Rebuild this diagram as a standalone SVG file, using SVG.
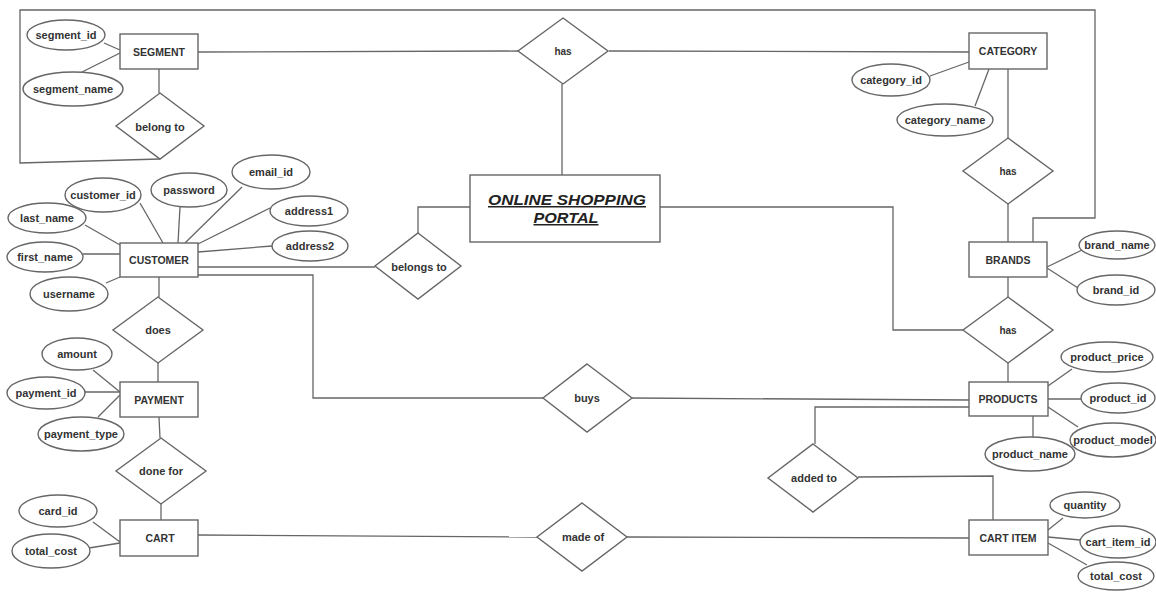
<svg xmlns="http://www.w3.org/2000/svg" width="1156" height="592" viewBox="0 0 1156 592">
<style>
.ent rect,.rel polygon,.attr ellipse{fill:#fff;stroke:#666;stroke-width:1.4}
text{font-family:"Liberation Sans",Arial,sans-serif;font-weight:bold;fill:#333;text-anchor:middle;dominant-baseline:central;font-size:11px}
.ent text{font-size:10.5px}
.title text{font-size:15px;font-style:italic;text-decoration:underline;fill:#222;dominant-baseline:auto}
#connectors *{stroke:#666;stroke-width:1.3;fill:none}
</style>
<rect width="1156" height="592" fill="#fff"/>
<g id="connectors">
<polyline points="160,159 20,163 20,10 1095,10 1095,218 1033,218 1033,242"/>
<line x1="198" y1="52" x2="518" y2="51"/>
<line x1="609" y1="51" x2="969" y2="52"/>
<line x1="562" y1="84" x2="562" y2="175"/>
<line x1="159" y1="69" x2="159" y2="93"/>
<line x1="104" y1="43" x2="120" y2="50"/>
<line x1="82" y1="72" x2="120" y2="53"/>
<line x1="930" y1="76" x2="969" y2="62"/>
<line x1="975" y1="106" x2="989" y2="69"/>
<line x1="1008" y1="69" x2="1008" y2="138"/>
<line x1="1008" y1="204" x2="1008" y2="242"/>
<line x1="1047" y1="267" x2="1082" y2="250"/>
<line x1="1047" y1="268" x2="1078" y2="288"/>
<line x1="1008" y1="277" x2="1008" y2="297"/>
<line x1="1008" y1="363" x2="1008" y2="382"/>
<polyline points="660,207 893,207 893,330 963,330"/>
<polyline points="470,207 418,207 418,233"/>
<line x1="198" y1="267" x2="375" y2="267"/>
<polyline points="198,275 313,275 313,398 543,398"/>
<line x1="632" y1="398" x2="969" y2="400"/>
<line x1="1048" y1="386" x2="1072" y2="369"/>
<line x1="1048" y1="399" x2="1081" y2="399"/>
<line x1="1048" y1="407" x2="1078" y2="427"/>
<line x1="1033" y1="416" x2="1033" y2="437"/>
<polyline points="969,407 815,407 815,444"/>
<polyline points="858,477 993,476 993,520"/>
<line x1="198" y1="535" x2="537" y2="537"/>
<line x1="627" y1="537" x2="969" y2="538"/>
<line x1="1048" y1="530" x2="1063" y2="518"/>
<line x1="1048" y1="537" x2="1080" y2="540"/>
<line x1="1048" y1="543" x2="1087" y2="565"/>
<line x1="140" y1="203" x2="163" y2="243"/>
<line x1="180" y1="207" x2="178" y2="243"/>
<line x1="242" y1="187" x2="185" y2="243"/>
<line x1="270" y1="208" x2="198" y2="244"/>
<line x1="272" y1="246" x2="198" y2="252"/>
<line x1="85" y1="225" x2="120" y2="245"/>
<line x1="83" y1="254" x2="120" y2="254"/>
<line x1="106" y1="283" x2="120" y2="277"/>
<line x1="159" y1="277" x2="159" y2="297"/>
<line x1="158" y1="363" x2="158" y2="382"/>
<line x1="93" y1="370" x2="120" y2="392"/>
<line x1="85" y1="392" x2="120" y2="392"/>
<line x1="98" y1="417" x2="120" y2="395"/>
<line x1="159" y1="417" x2="160" y2="438"/>
<line x1="161" y1="504" x2="161" y2="520"/>
<line x1="93" y1="522" x2="120" y2="542"/>
<line x1="89" y1="548" x2="120" y2="543"/>
</g>
<g id="portal" class="ent title"><rect x="470" y="175" width="190" height="67"/><text x="567" y="205" textLength="158" lengthAdjust="spacingAndGlyphs">ONLINE SHOPPING</text><text x="566" y="223" textLength="65" lengthAdjust="spacingAndGlyphs">PORTAL</text></g>
<g id="segment" class="ent"><rect x="120" y="34" width="78" height="35"/><text x="159" y="52">SEGMENT</text></g>
<g id="category" class="ent"><rect x="969" y="33" width="78" height="36"/><text x="1008" y="51">CATEGORY</text></g>
<g id="brands" class="ent"><rect x="969" y="242" width="78" height="35"/><text x="1008" y="260">BRANDS</text></g>
<g id="products" class="ent"><rect x="969" y="382" width="79" height="34"/><text x="1008" y="399">PRODUCTS</text></g>
<g id="cartitem" class="ent"><rect x="969" y="520" width="79" height="35"/><text x="1008" y="538">CART ITEM</text></g>
<g id="customer" class="ent"><rect x="120" y="243" width="78" height="34"/><text x="159" y="260">CUSTOMER</text></g>
<g id="payment" class="ent"><rect x="120" y="382" width="78" height="35"/><text x="159" y="400">PAYMENT</text></g>
<g id="cart" class="ent"><rect x="120" y="520" width="78" height="36"/><text x="160" y="538">CART</text></g>
<g id="rel-belong" class="rel"><polygon points="160,93 204,126 160,159 116,126"/><text x="160" y="127">belong to</text></g>
<g id="rel-has1" class="rel"><polygon points="563,18 608,51 563,84 518,51"/><text x="563" y="51" style="font-size:10px">has</text></g>
<g id="rel-has2" class="rel"><polygon points="1008,138 1053,171 1008,204 963,171"/><text x="1008" y="171" style="font-size:10px">has</text></g>
<g id="rel-has3" class="rel"><polygon points="1008,297 1053,330 1008,363 963,330"/><text x="1008" y="330" style="font-size:10px">has</text></g>
<g id="rel-belongs" class="rel"><polygon points="418,233 461,266 418,299 375,266"/><text x="419" y="267">belongs to</text></g>
<g id="rel-buys" class="rel"><polygon points="587,364 632,398 587,432 543,398"/><text x="587" y="398">buys</text></g>
<g id="rel-madeof" class="rel"><polygon points="582,503 627,537 582,571 537,537"/><text x="583" y="537">made of</text></g>
<g id="rel-added" class="rel"><polygon points="813,444 858,478 813,512 768,478"/><text x="814" y="478">added to</text></g>
<g id="rel-does" class="rel"><polygon points="158,297 203,330 158,363 113,330"/><text x="158" y="330">does</text></g>
<g id="rel-donefor" class="rel"><polygon points="161,438 206,471 161,504 116,471"/><text x="161" y="471">done for</text></g>
<g id="a-segment_id" class="attr"><ellipse cx="66" cy="35" rx="39" ry="15"/><text x="66" y="35">segment_id</text></g>
<g id="a-segment_name" class="attr"><ellipse cx="73" cy="89" rx="50" ry="17"/><text x="73" y="89">segment_name</text></g>
<g id="a-category_id" class="attr"><ellipse cx="891" cy="80" rx="39" ry="16"/><text x="891" y="80">category_id</text></g>
<g id="a-category_name" class="attr"><ellipse cx="945" cy="120" rx="48" ry="16"/><text x="945" y="120">category_name</text></g>
<g id="a-brand_name" class="attr"><ellipse cx="1117" cy="245" rx="38" ry="14"/><text x="1117" y="245">brand_name</text></g>
<g id="a-brand_id" class="attr"><ellipse cx="1116" cy="290" rx="39" ry="15"/><text x="1116" y="290">brand_id</text></g>
<g id="a-product_price" class="attr"><ellipse cx="1107" cy="357" rx="46" ry="15"/><text x="1107" y="357">product_price</text></g>
<g id="a-product_id" class="attr"><ellipse cx="1118" cy="398" rx="37" ry="15"/><text x="1118" y="398">product_id</text></g>
<g id="a-product_model" class="attr"><ellipse cx="1113" cy="440" rx="43" ry="17"/><text x="1113" y="440">product_model</text></g>
<g id="a-product_name" class="attr"><ellipse cx="1030" cy="454" rx="45" ry="17"/><text x="1030" y="454">product_name</text></g>
<g id="a-quantity" class="attr"><ellipse cx="1085" cy="505" rx="35" ry="13"/><text x="1085" y="505">quantity</text></g>
<g id="a-cart_item_id" class="attr"><ellipse cx="1118" cy="542" rx="38" ry="16"/><text x="1118" y="542">cart_item_id</text></g>
<g id="a-total_cost2" class="attr"><ellipse cx="1116" cy="576" rx="38" ry="14"/><text x="1116" y="576">total_cost</text></g>
<g id="a-customer_id" class="attr"><ellipse cx="103" cy="195" rx="38" ry="17"/><text x="103" y="195">customer_id</text></g>
<g id="a-password" class="attr"><ellipse cx="189" cy="190" rx="38" ry="17"/><text x="189" y="190">password</text></g>
<g id="a-email_id" class="attr"><ellipse cx="271" cy="172" rx="39" ry="17"/><text x="271" y="172">email_id</text></g>
<g id="a-address1" class="attr"><ellipse cx="309" cy="211" rx="39" ry="15"/><text x="309" y="211">address1</text></g>
<g id="a-address2" class="attr"><ellipse cx="310" cy="246" rx="38" ry="15"/><text x="310" y="246">address2</text></g>
<g id="a-last_name" class="attr"><ellipse cx="47" cy="218" rx="39" ry="15"/><text x="47" y="218">last_name</text></g>
<g id="a-first_name" class="attr"><ellipse cx="45" cy="257" rx="38" ry="15"/><text x="45" y="257">first_name</text></g>
<g id="a-username" class="attr"><ellipse cx="69" cy="294" rx="39" ry="17"/><text x="69" y="294">username</text></g>
<g id="a-amount" class="attr"><ellipse cx="77" cy="354" rx="35" ry="16"/><text x="77" y="354">amount</text></g>
<g id="a-payment_id" class="attr"><ellipse cx="46" cy="393" rx="39" ry="16"/><text x="46" y="393">payment_id</text></g>
<g id="a-payment_type" class="attr"><ellipse cx="81" cy="434" rx="43" ry="17"/><text x="81" y="434">payment_type</text></g>
<g id="a-card_id" class="attr"><ellipse cx="58" cy="511" rx="39" ry="16"/><text x="58" y="511">card_id</text></g>
<g id="a-total_cost" class="attr"><ellipse cx="51" cy="551" rx="39" ry="17"/><text x="51" y="551">total_cost</text></g>
</svg>
